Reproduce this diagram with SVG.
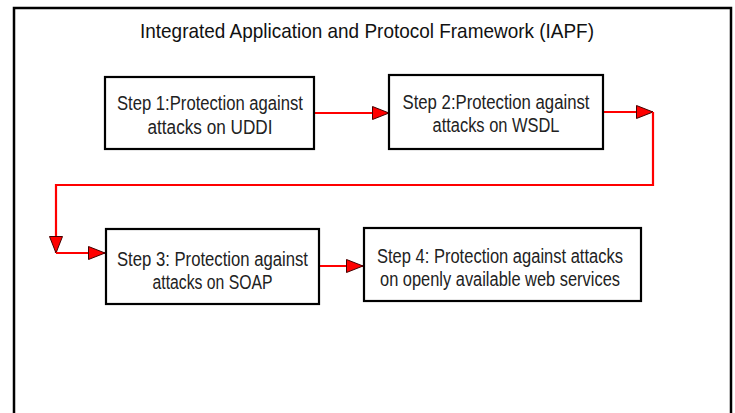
<svg xmlns="http://www.w3.org/2000/svg" width="735" height="413" viewBox="0 0 735 413">
  <defs>
    <marker id="arr" markerUnits="userSpaceOnUse" markerWidth="18" markerHeight="14" refX="17" refY="7" orient="auto">
      <path d="M0.5,0.5 L17,7 L0.5,13.5 z" fill="#ff0000" stroke="#440000" stroke-width="1"/>
    </marker>
  </defs>
  <style>
    .box { fill: #ffffff; stroke: #000000; stroke-width: 2.2; }
    .txt { font-family: "Liberation Sans", Arial, sans-serif; font-size: 20px; fill: #222222; text-anchor: middle; }
    .title { font-family: "Liberation Sans", Arial, sans-serif; font-size: 21px; fill: #111111; text-anchor: middle; }
    .conn { fill: none; stroke: #ff0000; stroke-width: 2.2; }
  </style>
  <rect x="0" y="0" width="735" height="413" fill="#ffffff"/>
  <g id="frame">
    <path d="M14,414 V8 H731 V414" fill="none" stroke="#000000" stroke-width="2.5"/>
    <text class="title" x="367" y="38" textLength="454" lengthAdjust="spacingAndGlyphs">Integrated Application and Protocol Framework (IAPF)</text>
  </g>
  <g id="connectors">
    <path class="conn" d="M314,113 H389" marker-end="url(#arr)"/>
    <path class="conn" d="M603,112 H653" marker-end="url(#arr)"/>
    <path class="conn" d="M653,112 V185 H56 V253" marker-end="url(#arr)"/>
    <path class="conn" d="M56,253 H105" marker-end="url(#arr)"/>
    <path class="conn" d="M319,266 H363" marker-end="url(#arr)"/>
  </g>
  <g id="step1">
    <rect class="box" x="105" y="77" width="209" height="72"/>
    <text class="txt" x="210" y="110" textLength="186" lengthAdjust="spacingAndGlyphs">Step 1:Protection against</text>
    <text class="txt" x="210" y="134" textLength="125" lengthAdjust="spacingAndGlyphs">attacks on UDDI</text>
  </g>
  <g id="step2">
    <rect class="box" x="389" y="75" width="214" height="74"/>
    <text class="txt" x="496" y="109" textLength="187" lengthAdjust="spacingAndGlyphs">Step 2:Protection against</text>
    <text class="txt" x="496" y="132" textLength="127" lengthAdjust="spacingAndGlyphs">attacks on WSDL</text>
  </g>
  <g id="step3">
    <rect class="box" x="106" y="229" width="213" height="75"/>
    <text class="txt" x="212.5" y="266" textLength="191" lengthAdjust="spacingAndGlyphs">Step 3: Protection against</text>
    <text class="txt" x="212.5" y="289" textLength="120" lengthAdjust="spacingAndGlyphs">attacks on SOAP</text>
  </g>
  <g id="step4">
    <rect class="box" x="364" y="228" width="277" height="73" stroke-width="2.6"/>
    <text class="txt" x="500" y="263" textLength="246" lengthAdjust="spacingAndGlyphs">Step 4: Protection against attacks</text>
    <text class="txt" x="500" y="286" textLength="240" lengthAdjust="spacingAndGlyphs">on openly available web services</text>
  </g>
</svg>
